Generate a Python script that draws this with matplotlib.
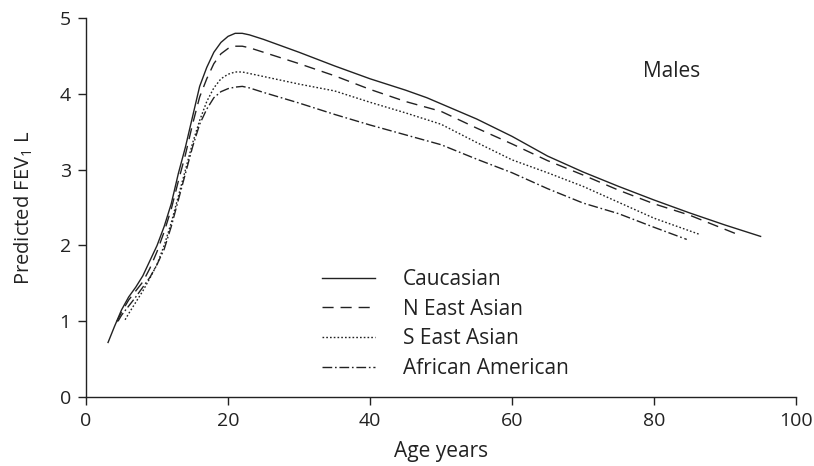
import matplotlib
matplotlib.use("Agg")
import matplotlib.pyplot as plt

plt.rcParams['font.family'] = ['Open Sans', 'DejaVu Sans']
plt.rcParams['mathtext.fontset'] = 'custom'
plt.rcParams['mathtext.rm'] = 'Open Sans'

# Data
cau_age = [3.1, 4, 5, 6, 7, 8, 9, 10, 11, 12, 13, 14, 15, 16, 17, 18, 19, 20, 21, 22, 23, 25, 30, 35, 40, 45, 48, 50, 55, 60, 65, 70, 75, 80, 85, 90, 95]
cau_fev = [0.72, 0.93, 1.15, 1.32, 1.45, 1.6, 1.8, 2.0, 2.25, 2.55, 2.95, 3.3, 3.7, 4.1, 4.35, 4.55, 4.68, 4.76, 4.8, 4.8, 4.78, 4.72, 4.55, 4.37, 4.2, 4.05, 3.95, 3.87, 3.67, 3.44, 3.18, 2.97, 2.78, 2.6, 2.43, 2.27, 2.12]

nea_age = [4.3, 5, 6, 7, 8, 9, 10, 11, 12, 13, 14, 15, 16, 17, 18, 19, 20, 21, 22, 23, 25, 30, 35, 40, 45, 50, 55, 60, 65, 70, 75, 80, 85, 91.4]
nea_fev = [0.99, 1.12, 1.28, 1.4, 1.52, 1.7, 1.92, 2.18, 2.48, 2.85, 3.2, 3.6, 3.96, 4.2, 4.4, 4.53, 4.6, 4.63, 4.63, 4.61, 4.55, 4.4, 4.24, 4.06, 3.9, 3.77, 3.55, 3.34, 3.12, 2.93, 2.73, 2.55, 2.4, 2.16]

sea_age = [5.5, 6, 7, 8, 9, 10, 11, 12, 13, 14, 15, 16, 17, 18, 19, 20, 21, 22, 23, 25, 30, 35, 40, 45, 50, 55, 60, 65, 70, 75, 80, 86.3]
sea_fev = [1.02, 1.1, 1.25, 1.4, 1.57, 1.75, 2.0, 2.3, 2.65, 3.0, 3.35, 3.65, 3.9, 4.08, 4.2, 4.26, 4.29, 4.29, 4.27, 4.23, 4.13, 4.04, 3.89, 3.75, 3.6, 3.36, 3.13, 2.96, 2.78, 2.57, 2.36, 2.15]

afr_age = [4.5, 5, 6, 7, 8, 9, 10, 11, 12, 13, 14, 15, 16, 17, 18, 19, 20, 21, 22, 23, 25, 30, 35, 40, 45, 50, 55, 60, 65, 70, 75, 80, 84.6]
afr_fev = [1.0, 1.08, 1.2, 1.32, 1.45, 1.58, 1.75, 1.95, 2.25, 2.6, 2.95, 3.3, 3.6, 3.8, 3.95, 4.03, 4.07, 4.09, 4.1, 4.08, 4.02, 3.88, 3.73, 3.59, 3.46, 3.33, 3.14, 2.96, 2.75, 2.56, 2.42, 2.24, 2.08]

labels = ['Caucasian', 'N East Asian', 'S East Asian', 'African American']
x_ticks = [0, 20, 40, 60, 80, 100]
y_ticks = [0, 1, 2, 3, 4, 5]

fig = plt.figure(figsize=(8.14, 4.66), dpi=100)
ax = fig.add_axes([0.1057, 0.148, 0.8723, 0.813])

lw = 1.0
col = '#222222'
ax.plot(cau_age, cau_fev, color=col, lw=lw, linestyle='-', label=labels[0])
ax.plot(nea_age, nea_fev, color=col, lw=lw, linestyle=(0, (8, 5)), label=labels[1])
ax.plot(sea_age, sea_fev, color=col, lw=lw, linestyle=(0, (1.2, 1.5)), label=labels[2])
ax.plot(afr_age, afr_fev, color=col, lw=lw, linestyle=(0, (7, 2, 1.2, 2)), label=labels[3])

ax.set_xlim(0, 100)
ax.set_ylim(0, 5)
ax.set_xticks(x_ticks)
ax.set_yticks(y_ticks)
for s in ['top', 'right']:
    ax.spines[s].set_visible(False)
for s in ['left', 'bottom']:
    ax.spines[s].set_linewidth(1.0)
    ax.spines[s].set_color(col)
ax.tick_params(direction='out', length=6, width=1.0, colors=col, labelsize=14, pad=5)

ax.set_xlabel('Age years', fontsize=15, color=col, labelpad=8)
ax.set_ylabel('Predicted FEV$_{1}$ L', fontsize=14.5, color=col, labelpad=18)

ax.text(78.5, 4.3, 'Males', fontsize=15, color=col, va='center', ha='left')

leg = ax.legend(loc='upper left', bbox_to_anchor=(0.332, 0.338), frameon=False,
                fontsize=15, handlelength=2.55, handletextpad=1.35, labelspacing=0.42,
                borderpad=0, borderaxespad=0)
for t in leg.get_texts():
    t.set_color(col)

fig.savefig('out.png', dpi=100)
